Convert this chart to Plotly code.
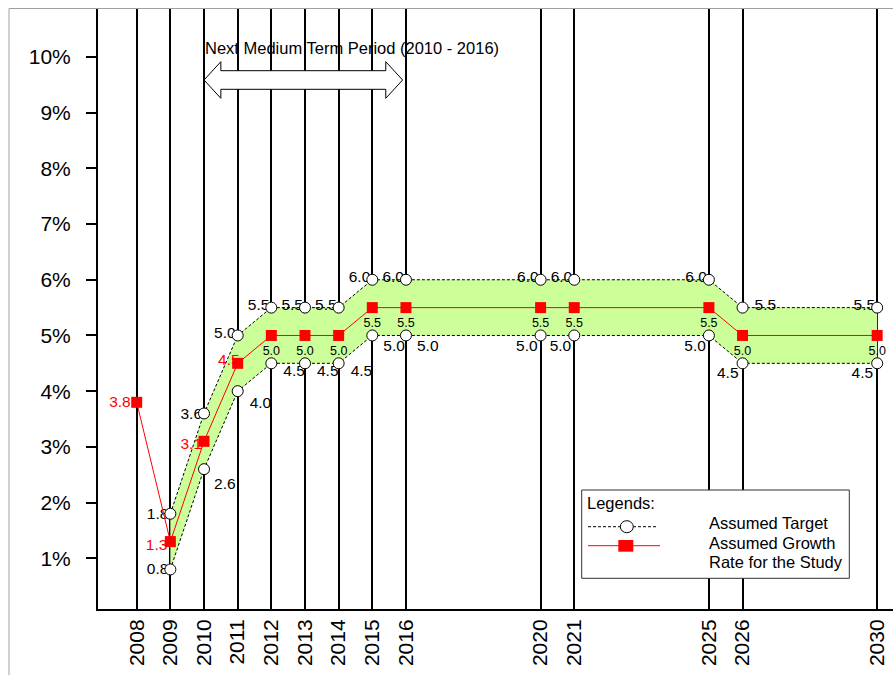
import plotly.graph_objects as go

# ---- data -------------------------------------------------------------
years = [2008, 2009, 2010, 2011, 2012, 2013, 2014, 2015, 2016, 2020, 2021, 2025, 2026, 2030]
growth_rate = [3.8, 1.3, 3.1, 4.5, 5.0, 5.0, 5.0, 5.5, 5.5, 5.5, 5.5, 5.5, 5.0, 5.0]

target_years = [2009, 2010, 2011, 2012, 2013, 2014, 2015, 2016, 2020, 2021, 2025, 2026, 2030]
target_upper = [1.8, 3.6, 5.0, 5.5, 5.5, 5.5, 6.0, 6.0, 6.0, 6.0, 6.0, 5.5, 5.5]
target_lower = [0.8, 2.6, 4.0, 4.5, 4.5, 4.5, 5.0, 5.0, 5.0, 5.0, 5.0, 4.5, 4.5]

y_tick_values = [1, 2, 3, 4, 5, 6, 7, 8, 9, 10]
y_tick_labels = [f"{v}%" for v in y_tick_values]

medium_term = (2010, 2016)

# ---- geometry ---------------------------------------------------------
W, H = 893, 675
M_L, M_R, M_T, M_B = 98, 0, 9, 66
PLOT_W = W - M_L - M_R
PLOT_H = H - M_T - M_B
X_RANGE = [2006.85, 2030.47]
Y_RANGE = [0.09, 10.86]
PXX = (X_RANGE[1] - X_RANGE[0]) / PLOT_W   # years per pixel
PXY = (Y_RANGE[1] - Y_RANGE[0]) / PLOT_H   # percent per pixel

FONT = "Liberation Sans, Arial, sans-serif"
GREEN = "#CCFF99"
RED = "#FF0000"
LABEL_SIZE = 15.5


def px_x(px):
    return (px - M_L) / PLOT_W


def px_y(py):
    return (M_T + PLOT_H - py) / PLOT_H


def label_trace(xs, ys, texts, side, dx, dy, size, color):
    """Text-only trace; dx/dy are pixel offsets of the text's visual centre line."""
    pos = {"left": "middle left", "right": "middle right", "center": "middle center"}[side]
    lx = [x + dx * PXX for x in xs]
    ly = [y - (dy + 0.108 * size) * PXY for y in ys]
    return go.Scatter(x=lx, y=ly, text=texts, mode="text", textposition=pos,
                      textfont=dict(size=size, color=color, family=FONT),
                      hoverinfo="skip", showlegend=False, cliponaxis=False)


def fmt(v):
    return f"{v:.1f}"


# label placement per year: (side, dx, dy)
upper_place = {2009: ("left", -2, 0), 2010: ("left", -2, 0), 2026: ("right", 12, -3)}
lower_place = {2009: ("left", -2, -1), 2010: ("right", 10, 14), 2011: ("right", 12, 11),
               2012: ("right", 12, 7), 2013: ("right", 12, 7), 2014: ("right", 12, 7),
               2015: ("right", 11, 10), 2016: ("right", 11, 10),
               2026: ("left", -4, 9), 2030: ("left", -4, 9)}
growth_place = {2008: ("left", -6, -1), 2009: ("left", -3, 3),
                2010: ("left", -2, 2), 2011: ("left", 2, -4)}

fig = go.Figure()

# target band
fig.add_trace(go.Scatter(
    x=target_years + target_years[::-1],
    y=target_upper + target_lower[::-1],
    fill="toself", fillcolor=GREEN, mode="none",
    hoverinfo="skip", showlegend=False))

# value labels (drawn under the markers)
for yr, v in zip(target_years, target_upper):
    side, dx, dy = upper_place.get(yr, ("left", -2, -3))
    fig.add_trace(label_trace([yr], [v], [fmt(v)], side, dx, dy, LABEL_SIZE, "#000000"))
for yr, v in zip(target_years, target_lower):
    side, dx, dy = lower_place.get(yr, ("left", -3, 10))
    fig.add_trace(label_trace([yr], [v], [fmt(v)], side, dx, dy, LABEL_SIZE, "#000000"))
for yr, v in zip(years, growth_rate):
    if yr in growth_place:
        side, dx, dy = growth_place[yr]
        fig.add_trace(label_trace([yr], [v], [fmt(v)], side, dx, dy, LABEL_SIZE, RED))
    else:
        fig.add_trace(label_trace([yr], [v], [fmt(v)], "center", 0, 15, 12.5, "#000000"))

# target bounds
for series in (target_upper, target_lower):
    fig.add_trace(go.Scatter(
        x=target_years, y=series, mode="lines+markers",
        line=dict(color="#000000", width=1, dash="3px,2px"),
        marker=dict(symbol="circle", size=11, color="#FFFFFF",
                    line=dict(color="#000000", width=1)),
        hoverinfo="skip", showlegend=False, cliponaxis=False))

# assumed growth rate
fig.add_trace(go.Scatter(
    x=years, y=growth_rate, mode="lines+markers",
    line=dict(color=RED, width=1),
    marker=dict(symbol="square", size=11, color=RED, line=dict(width=0)),
    hoverinfo="skip", showlegend=False, cliponaxis=False))

shapes = []
annotations = []

# outer frame
shapes.append(dict(type="line", xref="paper", yref="paper",
                   x0=px_x(9), x1=px_x(9), y0=px_y(8.5), y1=px_y(700),
                   line=dict(color="#A0A0A0", width=1)))
shapes.append(dict(type="line", xref="paper", yref="paper",
                   x0=px_x(9), x1=px_x(900), y0=px_y(8.5), y1=px_y(8.5),
                   line=dict(color="#A0A0A0", width=1)))

# double-headed arrow over the medium-term period
a0, a1 = medium_term[0], medium_term[1] - 0.1
head = 0.5
y_mid, y_ht, y_hb, y_st, y_sb = px_y(80), px_y(61.7), px_y(98.3), px_y(70.7), px_y(89.3)
path = (f"M {a0},{y_mid} L {a0 + head},{y_ht} L {a0 + head},{y_st} "
        f"L {a1 - head},{y_st} L {a1 - head},{y_ht} L {a1},{y_mid} "
        f"L {a1 - head},{y_hb} L {a1 - head},{y_sb} L {a0 + head},{y_sb} "
        f"L {a0 + head},{y_hb} Z")
shapes.append(dict(type="path", xref="x", yref="paper", path=path,
                   fillcolor="#FFFFFF", line=dict(color="#000000", width=1)))
annotations.append(dict(
    xref="x", yref="paper", x=medium_term[0] - 0.02, y=px_y(48),
    xanchor="left", yanchor="middle", showarrow=False,
    text=f"Next Medium Term Period ({medium_term[0]} - {medium_term[1]})",
    font=dict(size=16.5, color="#000000", family=FONT)))

# legend box
shapes.append(dict(type="rect", xref="paper", yref="paper",
                   x0=px_x(581.7), x1=px_x(849.3), y0=px_y(578.3), y1=px_y(490),
                   fillcolor="#FFFFFF", line=dict(color="#333333", width=1)))
shapes.append(dict(type="line", xref="paper", yref="paper",
                   x0=px_x(588), x1=px_x(658), y0=px_y(526.7), y1=px_y(526.7),
                   line=dict(color="#000000", width=1, dash="3px,2px")))
shapes.append(dict(type="circle", xref="paper", yref="paper",
                   x0=px_x(620.3), x1=px_x(633.3), y0=px_y(532.7), y1=px_y(520.7),
                   fillcolor="#FFFFFF", line=dict(color="#000000", width=1)))
shapes.append(dict(type="line", xref="paper", yref="paper",
                   x0=px_x(588), x1=px_x(660), y0=px_y(545.7), y1=px_y(545.7),
                   line=dict(color=RED, width=1)))
shapes.append(dict(type="rect", xref="paper", yref="paper",
                   x0=px_x(618.3), x1=px_x(633.3), y0=px_y(551.7), y1=px_y(540),
                   fillcolor=RED, line=dict(width=0)))
for txt, px, py in [("Legends:", 585, 502.7), ("Assumed Target", 707, 522.7),
                    ("Assumed Growth", 707, 542.7), ("Rate for the Study", 707, 561.7)]:
    annotations.append(dict(xref="paper", yref="paper", x=px_x(px), y=px_y(py),
                            xanchor="left", yanchor="middle", showarrow=False, text=txt,
                            font=dict(size=16.5, color="#000000", family=FONT)))

fig.update_layout(
    width=W, height=H,
    margin=dict(l=M_L, r=M_R, t=M_T, b=M_B, pad=0),
    paper_bgcolor="#FFFFFF", plot_bgcolor="#FFFFFF",
    font=dict(family=FONT, color="#000000"),
    shapes=shapes, annotations=annotations,
    showlegend=False,
    xaxis=dict(range=X_RANGE, tickmode="array", tickvals=years,
               ticktext=[str(y) for y in years], tickangle=-90,
               tickfont=dict(size=21, family=FONT, color="#000000"),
               showgrid=True, gridcolor="#000000", gridwidth=2,
               showline=True, linecolor="#000000", linewidth=2,
               ticks="", zeroline=False, fixedrange=True),
    yaxis=dict(range=Y_RANGE, tickmode="array", tickvals=y_tick_values,
               ticktext=y_tick_labels,
               tickfont=dict(size=21, family=FONT, color="#000000"),
               showgrid=False, showline=True, linecolor="#000000", linewidth=2,
               ticks="outside", ticklen=10, tickwidth=2, tickcolor="#000000",
               ticklabelstandoff=11, zeroline=False, fixedrange=True),
)

fig.write_html("out.html")
